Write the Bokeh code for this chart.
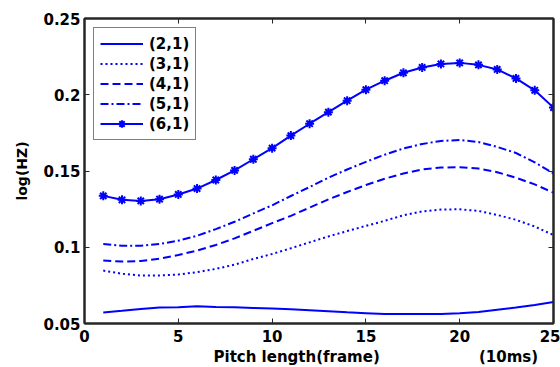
from bokeh.plotting import figure
from bokeh.models import (Range1d, FixedTicker, LinearAxis, Legend, LegendItem, Title)
from bokeh.embed import file_html
from bokeh.resources import INLINE

# Pitch length in frames
frames = list(range(1, 26))

# log(HZ) for each (m,n) configuration
s21 = [0.0572, 0.0583, 0.0595, 0.0605, 0.0607, 0.0613, 0.0608, 0.0606, 0.0602, 0.0598,
       0.0593, 0.0587, 0.0580, 0.0573, 0.0568, 0.0563, 0.0562, 0.0562, 0.0563, 0.0568,
       0.0575, 0.0590, 0.0605, 0.0622, 0.0641]
s31 = [0.0847, 0.0826, 0.0815, 0.0815, 0.0821, 0.0837, 0.0858, 0.0886, 0.0923, 0.0956,
       0.0993, 0.1032, 0.1071, 0.1106, 0.1140, 0.1173, 0.1210, 0.1235, 0.1247, 0.1249,
       0.1238, 0.1212, 0.1180, 0.1136, 0.1080]
s41 = [0.0913, 0.0906, 0.0910, 0.0925, 0.0949, 0.0978, 0.1015, 0.1058, 0.1108, 0.1158,
       0.1206, 0.1260, 0.1314, 0.1362, 0.1408, 0.1449, 0.1484, 0.1510, 0.1523, 0.1525,
       0.1516, 0.1492, 0.1456, 0.1412, 0.1358]
s51 = [0.1021, 0.1010, 0.1010, 0.1021, 0.1043, 0.1075, 0.1119, 0.1167, 0.1222, 0.1275,
       0.1336, 0.1395, 0.1456, 0.1510, 0.1560, 0.1607, 0.1648, 0.1677, 0.1697, 0.1703,
       0.1690, 0.1658, 0.1618, 0.1557, 0.1484]
s61 = [0.1337, 0.1311, 0.1304, 0.1315, 0.1346, 0.1385, 0.1441, 0.1504, 0.1577, 0.1650,
       0.1732, 0.1810, 0.1886, 0.1961, 0.2033, 0.2092, 0.2144, 0.2179, 0.2202, 0.2209,
       0.2196, 0.2166, 0.2107, 0.2029, 0.1916]

series_names = ["(2,1)", "(3,1)", "(4,1)", "(5,1)", "(6,1)"]

x_ticks = [0, 5, 10, 15, 20, 25]
y_ticks = [0.05, 0.1, 0.15, 0.2, 0.25]
y_tick_labels = ["0.05", "0.1", "0.15", "0.2", "0.25"]

x_caption = "Pitch length(frame)"
x_unit = "(10ms)"

FONT = "DejaVu Sans"
BLUE = "#0000ff"
AXIS_COLOR = "#262626"

p = figure(width=560, height=367, output_backend="svg", toolbar_location=None,
           x_range=Range1d(0, 25), y_range=Range1d(0.05, 0.25),
           min_border_left=84, min_border_right=7, min_border_top=18, min_border_bottom=0)
p.background_fill_color = "white"
p.border_fill_color = "white"
p.grid.visible = False
p.outline_line_color = AXIS_COLOR
p.outline_line_width = 2

def style_axis(ax):
    ax.axis_line_color = AXIS_COLOR
    ax.axis_line_width = 2
    ax.major_tick_in = 5
    ax.major_tick_out = 0
    ax.major_tick_line_color = AXIS_COLOR
    ax.major_tick_line_width = 1
    ax.minor_tick_line_color = None
    ax.major_label_text_font = FONT
    ax.major_label_text_font_style = "bold"
    ax.major_label_text_font_size = "15px"
    ax.major_label_text_color = "black"

style_axis(p.xaxis[0])
style_axis(p.yaxis[0])
p.xaxis[0].ticker = FixedTicker(ticks=x_ticks)
p.yaxis[0].ticker = FixedTicker(ticks=y_ticks)
p.yaxis[0].major_label_overrides = dict(zip(y_ticks, y_tick_labels))
p.xaxis[0].major_label_standoff = 6
p.yaxis[0].major_label_standoff = 4

p.yaxis[0].axis_label = "log(HZ)"
p.yaxis[0].axis_label_text_font = FONT
p.yaxis[0].axis_label_text_font_style = "bold"
p.yaxis[0].axis_label_text_font_size = "14px"
p.yaxis[0].axis_label_text_color = "black"
p.yaxis[0].axis_label_standoff = 10

# mirrored tick marks on the top and right edges of the box (no labels)
top_ax = LinearAxis(ticker=FixedTicker(ticks=x_ticks))
right_ax = LinearAxis(ticker=FixedTicker(ticks=y_ticks))
for ax in (top_ax, right_ax):
    style_axis(ax)
    ax.major_label_standoff = 0
    ax.major_label_text_font_size = "1px"
top_ax.major_label_overrides = {t: "" for t in x_ticks}
right_ax.major_label_overrides = {t: "" for t in y_ticks}
p.add_layout(top_ax, "above")
p.add_layout(right_ax, "right")

r1 = p.line(frames, s21, line_color=BLUE, line_width=2)
r2 = p.line(frames, s31, line_color=BLUE, line_width=2, line_dash="2 3")
r3 = p.line(frames, s41, line_color=BLUE, line_width=2, line_dash="8 4")
r4 = p.line(frames, s51, line_color=BLUE, line_width=2, line_dash="8 3 2 3")
r5 = p.line(frames, s61, line_color=BLUE, line_width=2)
r5m = p.scatter(frames, s61, marker="asterisk", size=9, line_color=BLUE, line_width=2)

legend = Legend(items=[
    LegendItem(label=series_names[0], renderers=[r1]),
    LegendItem(label=series_names[1], renderers=[r2]),
    LegendItem(label=series_names[2], renderers=[r3]),
    LegendItem(label=series_names[3], renderers=[r4]),
    LegendItem(label=series_names[4], renderers=[r5, r5m]),
], location="top_left")
legend.margin = 9
legend.padding = 6
legend.spacing = 1
legend.glyph_width = 43
legend.glyph_height = 19
legend.label_height = 19
legend.label_standoff = 6
legend.label_text_font = FONT
legend.label_text_font_style = "bold"
legend.label_text_font_size = "15px"
legend.label_text_color = "black"
legend.border_line_color = "black"
legend.border_line_width = 1
legend.background_fill_color = "white"
legend.background_fill_alpha = 1
p.add_layout(legend)

# x-axis caption with the unit note set off to the right
gap = "\u00a0" * 19
caption = Title(text=x_caption + gap + x_unit, align="left", offset=129, standoff=3,
                text_font=FONT, text_font_style="bold", text_font_size="15px",
                text_color="black")
p.add_layout(caption, "below")

open("out.html", "w").write(file_html(p, INLINE))
